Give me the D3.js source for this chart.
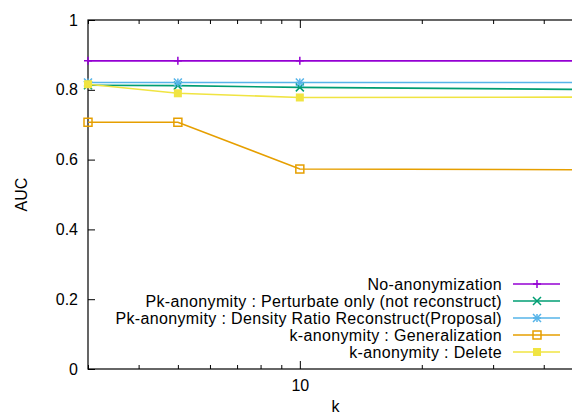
<!DOCTYPE html>
<html>
<head>
    <title>AUC vs k</title>
    <meta charset="utf-8">
    <script src="https://cdn.jsdelivr.net/npm/d3@7"></script>
    <style>
        * {
            box-sizing: border-box;
        }
        body {
            margin: 0;
            overflow: hidden;
            background: white;
        }
        text {
            font-family: "Liberation Sans", Arial, sans-serif;
            fill: black;
        }
        .axis path {
            display: none;
        }
        .axis line {
            stroke: black;
        }
        .axis text {
            font-size: 16px;
        }
        .legend text {
            font-size: 16px;
            letter-spacing: 0.35px;
        }
    </style>
</head>
<body>
    <div id="chart"></div>

    <script>
        // data
        const kValues = [3, 5, 10, 50];
        const noAnon = [0.883, 0.883, 0.883, 0.883];
        const pkPerturb = [0.813, 0.812, 0.807, 0.801];
        const pkDensity = [0.821, 0.821, 0.821, 0.821];
        const kGeneral = [0.707, 0.707, 0.573, 0.571];
        const kDelete = [0.816, 0.790, 0.778, 0.779];

        const seriesNames = [
            "No-anonymization",
            "Pk-anonymity : Perturbate only (not reconstruct)",
            "Pk-anonymity : Density Ratio Reconstruct(Proposal)",
            "k-anonymity : Generalization",
            "k-anonymity : Delete"
        ];
        const yTicks = [0, 0.2, 0.4, 0.6, 0.8, 1];
        const xMajorTicks = [10];
        const xMinorTicks = [3, 4, 5, 6, 7, 8, 9, 20, 30, 40];

        const colors = ["#9400d3", "#009e73", "#56b4e9", "#e69f00", "#f0e442"];
        const symbols = ["plus", "cross", "star", "box", "boxfill"];
        const allValues = [noAnon, pkPerturb, pkDensity, kGeneral, kDelete];

        const series = seriesNames.map((name, i) => ({
            name: name,
            color: colors[i],
            symbol: symbols[i],
            values: kValues.map((k, j) => ({k: k, v: allValues[i][j]}))
        }));

        const margin = {top: 20, left: 88};
        const plotW = 495;
        const plotH = 349;

        const svg = d3.select("#chart")
            .append("svg")
            .attr("width", 572)
            .attr("height", 415);

        const g = svg.append("g")
            .attr("transform", `translate(${margin.left},${margin.top})`);

        const x = d3.scaleLog()
            .domain([3, 50])
            .range([0, plotW]);

        const y = d3.scaleLinear()
            .domain([0, 1])
            .range([plotH, 0]);

        // axes (gnuplot style: ticks inward, mirrored)
        g.append("g")
            .attr("class", "axis")
            .attr("transform", `translate(0,${plotH})`)
            .call(d3.axisBottom(x).tickValues(xMajorTicks).tickSize(-8).tickPadding(11).tickFormat(d3.format("d")));
        g.append("g")
            .attr("class", "axis")
            .attr("transform", `translate(0,${plotH})`)
            .call(d3.axisBottom(x).tickValues(xMinorTicks).tickSize(-4).tickFormat(""));
        g.append("g")
            .attr("class", "axis")
            .call(d3.axisTop(x).tickValues(xMajorTicks).tickSize(-8).tickFormat(""));
        g.append("g")
            .attr("class", "axis")
            .call(d3.axisTop(x).tickValues(xMinorTicks).tickSize(-4).tickFormat(""));
        g.append("g")
            .attr("class", "axis")
            .call(d3.axisLeft(y).tickValues(yTicks).tickSize(-7).tickPadding(10).tickFormat(d3.format("")));
        g.append("g")
            .attr("class", "axis")
            .attr("transform", `translate(${plotW},0)`)
            .call(d3.axisRight(y).tickValues(yTicks).tickSize(-7).tickFormat(""));

        g.append("rect")
            .attr("width", plotW)
            .attr("height", plotH)
            .attr("fill", "none")
            .attr("stroke", "black")
            .attr("stroke-width", 1.2);

        // axis titles
        svg.append("text")
            .attr("transform", `translate(27,${margin.top + plotH / 2}) rotate(-90)`)
            .attr("text-anchor", "middle")
            .attr("font-size", 16)
            .text("AUC");
        svg.append("text")
            .attr("x", margin.left + plotW / 2)
            .attr("y", 412)
            .attr("text-anchor", "middle")
            .attr("font-size", 16)
            .text("k");

        function drawSymbol(sel, type, color) {
            const s = 4;
            if (type === "plus" || type === "star") {
                sel.append("path")
                    .attr("d", `M${-s},0H${s}M0,${-s}V${s}`)
                    .attr("stroke", color).attr("stroke-width", 1.5);
            }
            if (type === "cross" || type === "star") {
                sel.append("path")
                    .attr("d", `M${-s},${-s}L${s},${s}M${-s},${s}L${s},${-s}`)
                    .attr("stroke", color).attr("stroke-width", 1.5);
            }
            if (type === "box") {
                sel.append("rect")
                    .attr("x", -s).attr("y", -s).attr("width", 2 * s).attr("height", 2 * s)
                    .attr("fill", "none").attr("stroke", color).attr("stroke-width", 1.5);
            }
            if (type === "boxfill") {
                sel.append("rect")
                    .attr("x", -s).attr("y", -s).attr("width", 2 * s).attr("height", 2 * s)
                    .attr("fill", color);
            }
        }

        const line = d3.line()
            .x(d => x(d.k))
            .y(d => y(d.v));

        series.forEach(s => {
            g.append("path")
                .attr("d", line(s.values))
                .attr("fill", "none")
                .attr("stroke", s.color)
                .attr("stroke-width", 1.6);
            s.values.forEach(d => {
                const m = g.append("g")
                    .attr("transform", `translate(${x(d.k)},${y(d.v)})`);
                drawSymbol(m, s.symbol, s.color);
            });
        });

        // legend
        const legend = svg.append("g").attr("class", "legend");
        series.forEach((s, i) => {
            const ly = 284 + i * 17;
            legend.append("text")
                .attr("x", 502)
                .attr("y", ly)
                .attr("dy", "0.35em")
                .attr("text-anchor", "end")
                .text(s.name);
            legend.append("line")
                .attr("x1", 513).attr("x2", 560)
                .attr("y1", ly).attr("y2", ly)
                .attr("stroke", s.color)
                .attr("stroke-width", 1.6);
            const m = legend.append("g")
                .attr("transform", `translate(537,${ly})`);
            drawSymbol(m, s.symbol, s.color);
        });
    </script>
</body>
</html>
